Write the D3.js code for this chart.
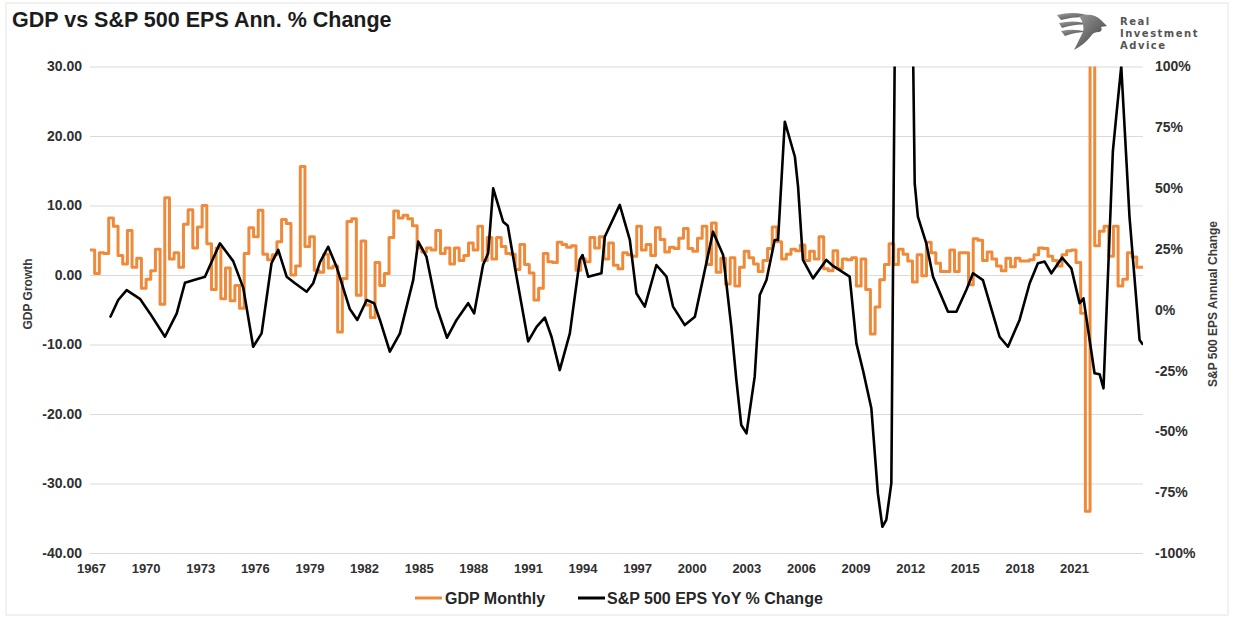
<!DOCTYPE html>
<html>
<head>
<meta charset="utf-8">
<script src="https://cdn.jsdelivr.net/npm/d3@7"></script>
<style>
    body { margin: 0; background: #fff; }
    svg { display: block; font-family: Arial, "Liberation Sans", sans-serif; }
</style>
</head>
<body>
<svg id="chart" width="1234" height="619"></svg>
<script>
//Data
var gdpFirstYear = 1967;
var gdpLastYear = 2023.333;

// GDP growth, annualized %, one value per quarter from 1967 Q1 (shown as monthly steps)
var gdpGrowth = [
    3.6, 0.2, 3.2, 3.1,      // 1967
    8.2, 7.0, 2.8, 1.6,      // 1968
    6.4, 1.1, 2.4, -1.9,     // 1969
    -0.6, 0.6, 3.7, -4.2,    // 1970
    11.1, 2.3, 3.2, 1.1,     // 1971
    7.3, 9.4, 3.9, 6.9,      // 1972
    10.0, 4.5, -2.1, 3.9,    // 1973
    -3.4, 1.0, -3.7, -1.5,   // 1974
    -4.8, 3.1, 6.8, 5.5,     // 1975
    9.3, 3.0, 2.2, 2.9,      // 1976
    4.8, 8.0, 7.4, 0.0,      // 1977
    1.3, 15.6, 4.1, 5.5,     // 1978
    0.7, 0.4, 3.0, 1.0,      // 1979
    1.3, -8.2, -0.5, 7.7,    // 1980
    8.1, -2.9, 4.9, -4.3,    // 1981
    -6.1, 1.8, -1.5, 0.2,    // 1982
    5.4, 9.2, 8.2, 8.6,      // 1983
    8.1, 7.1, 3.9, 3.3,      // 1984
    3.9, 3.6, 6.4, 3.1,      // 1985
    3.9, 1.6, 3.9, 2.1,      // 1986
    2.8, 4.6, 3.6, 7.0,      // 1987
    2.1, 5.4, 2.3, 5.4,      // 1988
    4.1, 3.1, 3.0, 0.8,      // 1989
    4.4, 1.5, 0.3, -3.6,     // 1990
    -1.9, 3.1, 1.9, 1.8,     // 1991
    4.7, 4.4, 4.0, 4.2,      // 1992
    0.7, 2.3, 1.9, 5.4,      // 1993
    3.9, 5.5, 2.3, 4.6,      // 1994
    1.4, 0.9, 3.2, 2.9,      // 1995
    2.7, 7.0, 3.6, 4.4,      // 1996
    2.8, 6.8, 5.1, 3.3,      // 1997
    4.0, 3.8, 5.3, 6.7,      // 1998
    3.8, 3.4, 5.3, 7.0,      // 1999
    1.5, 7.5, 0.4, 2.4,      // 2000
    -1.3, 2.5, -1.6, 1.1,    // 2001
    3.4, 2.5, 1.6, 0.5,      // 2002
    2.1, 3.8, 6.9, 4.8,      // 2003
    2.3, 3.0, 3.7, 3.5,      // 2004
    4.3, 2.1, 3.4, 2.3,      // 2005
    5.5, 0.9, 0.6, 3.5,      // 2006
    0.9, 2.3, 2.2, 2.5,      // 2007
    -1.6, 2.3, -2.1, -8.5,   // 2008
    -4.6, -0.7, 1.5, 4.5,    // 2009
    1.5, 3.7, 3.0, 2.0,      // 2010
    -1.0, 2.9, -0.1, 4.7,    // 2011
    3.2, 1.7, 0.5, 0.5,      // 2012
    3.6, 0.5, 3.2, 3.2,      // 2013
    -1.4, 5.2, 5.0, 2.1,     // 2014
    3.3, 2.3, 1.3, 0.6,      // 2015
    2.4, 1.2, 2.4, 2.0,      // 2016
    2.0, 2.2, 2.9, 3.9,      // 2017
    3.8, 2.7, 2.1, 1.3,      // 2018
    2.9, 3.5, 3.6, 1.8,      // 2019
    -5.5, -34.0, 33.8, 4.2,  // 2020
    6.3, 7.0, 2.7, 7.0,      // 2021
    -1.6, -0.6, 3.2, 2.6,    // 2022
    1.1                      // 2023
];

// S&P 500 EPS year over year % change (decimal year, %)
var epsDates = [
    1968.10, 1968.51, 1968.96, 1969.67, 1970.21, 1971.01, 1971.64, 1972.08, 1972.88, 1973.15,
    1973.95, 1974.66, 1975.20, 1975.73, 1976.18, 1976.71, 1977.07, 1977.52, 1977.95, 1978.59,
    1978.94, 1979.30, 1979.74, 1980.19, 1980.90, 1981.30, 1981.80, 1982.20, 1982.51, 1983.04,
    1983.58, 1984.29, 1984.56, 1985.00, 1985.54, 1986.10, 1986.61, 1987.23, 1987.55, 1988.03,
    1988.30, 1988.57, 1989.10, 1989.35, 1989.82, 1990.44, 1990.89, 1991.33, 1991.69, 1992.13,
    1992.67, 1993.20, 1993.35, 1993.65, 1994.36, 1994.54, 1995.34, 1995.88, 1996.23, 1996.68,
    1997.30, 1997.84, 1998.19, 1998.82, 1999.36, 2000.33, 2000.87, 2001.31, 2001.58, 2001.84,
    2002.12, 2002.56, 2002.83, 2003.19, 2003.63, 2003.81, 2004.17, 2004.71, 2004.88, 2005.14,
    2005.68, 2006.39, 2006.75, 2007.64, 2008.00, 2008.35, 2008.80, 2009.15, 2009.39, 2009.60,
    2009.87, 2010.20, 2010.80, 2011.12, 2011.29, 2011.74, 2012.10, 2012.90, 2013.35, 2013.88,
    2014.24, 2014.77, 2015.13, 2015.66, 2016.11, 2016.73, 2017.27, 2017.71, 2018.07, 2018.43,
    2019.00, 2019.50, 2019.94, 2020.15, 2020.74, 2021.01, 2021.22, 2021.72, 2021.90, 2022.17,
    2022.61, 2023.15, 2023.30
];
var epsChange = [
    -2.8, 4.0, 8.1, 4.5, -1.5, -11.1, -1.5, 11.1, 12.9, 13.6,
    27.3, 20.0, 9.0, -15.2, -9.7, 19.1, 24.6, 13.6, 11.0, 7.4,
    10.9, 19.5, 25.9, 17.7, 0.3, -4.2, 4.0, 2.7, -4.2, -17.2,
    -9.7, 12.2, 28.0, 21.8, 1.3, -11.5, -4.2, 2.7, -1.5, 18.5,
    23.2, 49.9, 36.2, 34.5, 13.6, -13.0, -7.0, -3.2, -11.1, -24.8,
    -9.7, 20.5, 22.5, 13.6, 15.0, 30.0, 43.1, 28.7, 6.8, 1.3,
    18.4, 13.6, 1.3, -6.3, -2.9, 32.1, 22.5, -7.0, -28.9, -47.4,
    -50.8, -27.5, 6.1, 12.2, 28.7, 28.7, 77.3, 62.9, 50.6, 20.5,
    12.9, 20.5, 18.0, 13.6, -13.8, -24.8, -40.5, -75.5, -89.2, -86.4,
    -71.3, 250, 250, 52.0, 38.3, 27.3, 13.6, -0.8, -0.8, 8.1,
    15.0, 12.2, 2.7, -11.1, -15.2, -4.2, 10.9, 19.1, 19.8, 15.0,
    21.4, 17.0, 2.7, 4.7, -26.1, -26.5, -32.3, 65.0, 79.4, 100,
    38.3, -12.4, -14.0
];

var gdpTicks = [30, 20, 10, 0, -10, -20, -30, -40];
var epsTicks = [100, 75, 50, 25, 0, -25, -50, -75, -100];
var yearTicks = [1967, 1970, 1973, 1976, 1979, 1982, 1985, 1988, 1991, 1994, 1997, 2000, 2003, 2006, 2009, 2012, 2015, 2018, 2021];
var logoLines = ["Real", "Investment", "Advice"];

//Layout
var plot = { left: 90, right: 1143, top: 66.5, bottom: 553 };
var labelSpan = { first: 91, last: 1074 };   // where the category labels sit in the picture
var orange = "#ef8a3a";
var gridColor = "#dadada";
var labelColor = "#303030";

var svg = d3.select("#chart");

// light frame round the picture
svg.append("rect")
    .attr("x", 6).attr("y", 3).attr("width", 1222).attr("height", 612)
    .attr("fill", "none").attr("stroke", "#e4e4e4");

//Scales
var x = d3.scaleLinear().domain([gdpFirstYear, gdpLastYear]).range([plot.left, plot.right]);
var xLabels = d3.scalePoint().domain(yearTicks).range([labelSpan.first, labelSpan.last]);
var yGdp = d3.scaleLinear().domain(d3.extent(gdpTicks)).range([plot.bottom, plot.top]);
var yEps = d3.scaleLinear().domain(d3.extent(epsTicks)).range([plot.bottom, plot.top]);

//Axes
var leftAxis = svg.append("g")
    .attr("transform", `translate(${plot.left},0)`)
    .call(d3.axisLeft(yGdp).tickValues(gdpTicks)
        .tickSize(-(plot.right - plot.left)).tickPadding(8)
        .tickFormat(function (d) { return d.toFixed(2) }));
leftAxis.select(".domain").remove();
leftAxis.selectAll(".tick line").attr("stroke", gridColor).attr("stroke-width", 1);

var rightAxis = svg.append("g")
    .attr("transform", `translate(${plot.right},0)`)
    .call(d3.axisRight(yEps).tickValues(epsTicks).tickSize(0).tickPadding(12)
        .tickFormat(function (d) { return d + "%" }));
rightAxis.select(".domain").remove();

var bottomAxis = svg.append("g")
    .attr("transform", `translate(0,${plot.bottom})`)
    .call(d3.axisBottom(xLabels).tickSize(0).tickPadding(11)
        .tickFormat(d3.format("d")));
bottomAxis.select(".domain").remove();

svg.selectAll(".tick text")
    .attr("font-family", "Arial, 'Liberation Sans', sans-serif")
    .attr("font-weight", "bold")
    .attr("fill", labelColor);
leftAxis.selectAll(".tick text").attr("font-size", 14);
rightAxis.selectAll(".tick text").attr("font-size", 14);
bottomAxis.selectAll(".tick text").attr("font-size", 13);

// axis titles
svg.append("text")
    .attr("transform", "translate(32,294) rotate(-90)")
    .attr("text-anchor", "middle")
    .attr("font-size", 12).attr("font-weight", "bold").attr("fill", "#3a3a3a")
    .text("GDP Growth");
svg.append("text")
    .attr("transform", "translate(1217,304) rotate(-90)")
    .attr("text-anchor", "middle")
    .attr("font-size", 12).attr("font-weight", "bold").attr("fill", "#3a3a3a")
    .text("S&P 500 EPS Annual Change");

//Series
svg.append("clipPath").attr("id", "plot-clip")
    .append("rect")
    .attr("x", plot.left).attr("y", plot.top)
    .attr("width", plot.right - plot.left).attr("height", plot.bottom - plot.top);

var gdpPoints = gdpGrowth.map(function (v, i) { return [gdpFirstYear + i / 4, v] });
gdpPoints.push([gdpLastYear, gdpGrowth[gdpGrowth.length - 1]]);

var epsPoints = epsDates.map(function (d, i) { return [d, epsChange[i]] });

var series = svg.append("g").attr("clip-path", "url(#plot-clip)");

series.append("path")
    .datum(gdpPoints)
    .attr("fill", "none")
    .attr("stroke", orange)
    .attr("stroke-width", 3)
    .attr("stroke-linejoin", "round")
    .attr("d", d3.line()
        .x(function (d) { return x(d[0]) })
        .y(function (d) { return yGdp(d[1]) })
        .curve(d3.curveStepAfter));

series.append("path")
    .datum(epsPoints)
    .attr("fill", "none")
    .attr("stroke", "#000")
    .attr("stroke-width", 2.6)
    .attr("stroke-linejoin", "round")
    .attr("stroke-linecap", "round")
    .attr("d", d3.line()
        .x(function (d) { return x(d[0]) })
        .y(function (d) { return yEps(d[1]) }));

//Legend
var legend = svg.append("g").attr("font-size", 16).attr("font-weight", "bold").attr("fill", "#262626");
legend.append("line").attr("x1", 415).attr("x2", 442).attr("y1", 598).attr("y2", 598)
    .attr("stroke", orange).attr("stroke-width", 3);
legend.append("text").attr("x", 445).attr("y", 604).text("GDP Monthly");
legend.append("line").attr("x1", 578).attr("x2", 605).attr("y1", 598).attr("y2", 598)
    .attr("stroke", "#000").attr("stroke-width", 3);
legend.append("text").attr("x", 607).attr("y", 604).text("S&P 500 EPS YoY % Change");

//Title
svg.append("text")
    .attr("x", 12).attr("y", 27)
    .attr("font-size", 21.5).attr("font-weight", "bold").attr("fill", "#1c1c1c")
    .text("GDP vs S&P 500 EPS Ann. % Change");

//Logo
var grad = svg.append("defs").append("linearGradient")
    .attr("id", "logo-grad").attr("x1", 0).attr("y1", 0).attr("x2", 1).attr("y2", 1);
grad.append("stop").attr("offset", 0).attr("stop-color", "#a0a0a0");
grad.append("stop").attr("offset", 1).attr("stop-color", "#383838");

var logo = svg.append("g").attr("transform", "translate(1057,11)").attr("fill", "url(#logo-grad)");
logo.append("path").attr("d", "M0,4 Q20,-1 38,7 Q21,4 4,9 Z");
logo.append("path").attr("d", "M2,12 Q19,8 34,14 Q19,12 5,17 Z");
logo.append("path").attr("d", "M4,20 Q17,17 30,21 Q18,21 8,25 Z");
logo.append("path").attr("d", "M22,5 Q36,1 44,9 L50,15 L44,16 Q46,20 42,21 Q36,21 34,25 Q28,33 17,39 Q22,29 26,21 Q28,13 22,5 Z");

var logoText = svg.append("g")
    .attr("font-family", "'DejaVu Sans', sans-serif")
    .attr("font-size", 10).attr("font-weight", "bold")
    .attr("letter-spacing", 1.5).attr("fill", "#555");
logoText.selectAll("text").data(logoLines).enter()
    .append("text")
    .attr("x", 1120)
    .attr("y", function (d, i) { return 25 + i * 12 })
    .text(function (d) { return d });
</script>
</body>
</html>
